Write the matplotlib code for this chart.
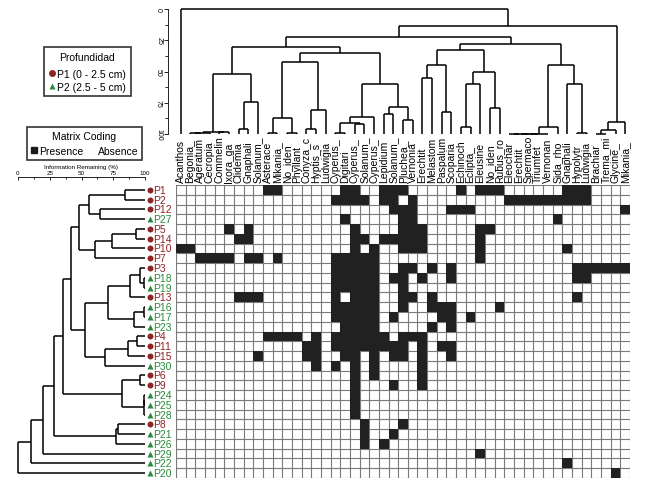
import matplotlib.pyplot as plt
from matplotlib.lines import Line2D
from matplotlib.ticker import MultipleLocator
import numpy as np

plt.rcParams['font.family'] = ['Liberation Sans', 'DejaVu Sans']

species = ["Acanthos", "Begonia_", "Ageratum", "Cecropia", "Commelin", "Ixora_ga",
           "Clidemia", "Gnaphali", "Solanum_", "Asterace", "Mikania_", "No_iden",
           "Phyllant", "Conyza_c", "Hyptis_s", "Ludwigia", "Cyperus_", "Digitari",
           "Cyperus_", "Solanum_", "Cyperus_", "Lepidium", "Solanum_", "Pluchea_",
           "Vernonia", "Erechtit", "Melastom", "Paspalum", "Scoparia", "Echinoch",
           "Eclipta_", "Eleusine", "No_iden", "Rubus_ro", "Eleochar", "Erechtit",
           "Spermaco", "Triumfet", "Vernonan", "Sida_rho", "Gnaphali", "Hypolytr",
           "Ludwigia", "Brachiar", "Trema_mi", "Glycine_", "Mikania_"]

plots = ["P1", "P2", "P12", "P27", "P5", "P14", "P10", "P7", "P3", "P18", "P19",
         "P13", "P16", "P17", "P23", "P4", "P11", "P15", "P30", "P6", "P9", "P24",
         "P25", "P28", "P8", "P21", "P26", "P29", "P22", "P20"]

# depth class of each plot: 1 = P1 (0 - 2.5 cm), 2 = P2 (2.5 - 5 cm)
depth = [1, 1, 1, 2, 1, 1, 1, 1, 1, 2, 2, 1, 2, 2, 2, 1, 1, 1, 2, 1, 1, 2,
         2, 2, 1, 2, 2, 2, 2, 2]

# species (column index) present in each plot
presence = {
    "P1": [9, 10, 17, 18, 21, 22, 23, 29, 31, 32, 33, 40, 41, 42],
    "P2": [16, 17, 18, 19, 21, 22, 24, 34, 35, 36, 37, 38, 39, 40, 41, 42],
    "P12": [22, 23, 24, 28, 29, 30, 46],
    "P27": [17, 23, 24, 39],
    "P5": [5, 7, 18, 23, 24, 25, 31, 32],
    "P14": [6, 7, 18, 19, 21, 22, 23, 24, 25, 31],
    "P10": [0, 1, 18, 20, 23, 24, 25, 31, 40],
    "P7": [2, 3, 4, 5, 7, 8, 10, 16, 17, 18, 19, 20, 31],
    "P3": [16, 17, 18, 19, 20, 23, 24, 26, 28, 41, 42, 43, 44, 45, 46],
    "P18": [16, 17, 18, 19, 20, 22, 23, 25, 28, 41, 42],
    "P19": [16, 17, 18, 19, 20, 23],
    "P13": [6, 7, 8, 16, 18, 19, 20, 23, 24, 26, 41],
    "P16": [16, 17, 18, 19, 20, 23, 26, 27, 28, 33],
    "P17": [16, 17, 18, 19, 20, 22, 27, 28, 30],
    "P23": [17, 18, 19, 20, 26, 28],
    "P4": [9, 10, 11, 12, 14, 16, 17, 18, 19, 20, 21, 23, 24, 25],
    "P11": [13, 14, 16, 17, 18, 19, 20, 21, 22, 23, 25, 27, 28],
    "P15": [8, 13, 14, 17, 18, 20, 22, 23, 25, 28],
    "P30": [14, 16, 18, 20, 25],
    "P6": [18, 20, 25],
    "P9": [18, 22, 25],
    "P24": [18],
    "P25": [18],
    "P28": [18],
    "P8": [19, 23],
    "P21": [19, 22],
    "P26": [19, 21],
    "P29": [31],
    "P22": [40],
    "P20": [45],
}

# row dendrogram: (child, child, information remaining %, new cluster)
row_merges = [
    ("P1", "P2", 84, "r1"), ("P12", "P27", 64.6, "r2"), ("r1", "r2", 56, "r3"),
    ("P5", "P14", 93, "r4"), ("r4", "P10", 74, "r5"), ("r5", "P7", 60.6, "r6"),
    ("r3", "r6", 48, "r7"),
    ("P18", "P19", 99, "r8"), ("P3", "r8", 96, "r9"), ("r9", "P13", 88, "r10"),
    ("P16", "P17", 99.5, "r11"), ("r11", "P23", 91, "r12"), ("r10", "r12", 71, "r13"),
    ("P4", "P11", 94, "r14"), ("r14", "P15", 87, "r15"), ("r15", "P30", 68.5, "r16"),
    ("r13", "r16", 52.8, "r17"), ("r7", "r17", 41.7, "r18"),
    ("P6", "P9", 96, "r19"), ("P24", "P25", 99.6, "r20"), ("r20", "P28", 99.5, "r21"),
    ("r19", "r21", 82, "r22"), ("r18", "r22", 35.8, "r23"),
    ("P8", "P21", 79, "r24"), ("r24", "P26", 77, "r25"), ("r23", "r25", 28.5, "r26"),
    ("r26", "P29", 19.4, "r27"), ("r27", "P22", 10, "r28"), ("r28", "P20", 0, "r29"),
]

# column dendrogram (leaves are column indices)
col_merges = [
    (1, 2, 99.5, "c1"), ("c1", 3, 99.5, "c2"), (4, 5, 98, "c3"), ("c2", "c3", 98, "c4"),
    (6, 7, 96, "c5"), ("c5", 8, 74.7, "c6"), ("c4", "c6", 52, "c7"),
    (9, 10, 99.5, "c8"), (11, 12, 99.5, "c9"), ("c8", "c9", 87, "c10"),
    (13, 14, 96, "c11"), ("c11", 15, 81, "c12"), ("c10", "c12", 42, "c13"),
    (16, 17, 99.5, "c14"), (18, 19, 92, "c15"), ("c14", "c15", 91.2, "c16"),
    ("c16", 20, 86.7, "c17"), (21, 22, 84, "c18"), (23, 24, 88.5, "c19"),
    ("c18", "c19", 78, "c20"), ("c17", "c20", 60, "c21"),
    (25, 26, 55, "c22"), (27, 28, 82.7, "c23"), ("c22", "c23", 45, "c24"),
    (29, 30, 94.7, "c25"), ("c25", 31, 60, "c26"), (32, 33, 79.5, "c27"),
    ("c26", "c27", 50, "c28"), ("c24", "c28", 33, "c29"),
    (34, 35, 100, "c30"), ("c30", 36, 100, "c31"), ("c31", 37, 100, "c32"),
    ("c32", 38, 100, "c33"), ("c33", 39, 94, "c34"),
    (41, 42, 99, "c35"), (40, "c35", 60, "c36"), ("c34", "c36", 45, "c37"),
    (43, 44, 100, "c38"), ("c38", 45, 96.8, "c39"), ("c39", 46, 90.7, "c40"),
    ("c13", "c21", 35, "c41"), ("c7", "c41", 30, "c42"), ("c29", "c37", 28, "c43"),
    ("c42", "c43", 22, "c44"), ("c44", "c40", 13.6, "c45"),
    (0, "c45", 0, "c46"),
]

red = "#8e2424"
green = "#2a8a3c"


def dendro_segments(leaves, merges):
    pos = {name: i + 0.5 for i, name in enumerate(leaves)}
    level = {name: 100.0 for name in leaves}
    segs = []
    for a, b, h, name in merges:
        xa, xb = pos[a], pos[b]
        segs.append(([xa, xa], [level[a], h]))
        segs.append(([xb, xb], [level[b], h]))
        segs.append(([xa, xb], [h, h]))
        pos[name] = (xa + xb) / 2
        level[name] = h
    return segs


W, H = 649, 485
fig = plt.figure(figsize=(W / 100, H / 100), dpi=100)


def px_axes(x0, y0, x1, y1):
    return fig.add_axes([x0 / W, 1 - y1 / H, (x1 - x0) / W, (y1 - y0) / H])


n_rows, n_cols = len(plots), len(species)

# presence / absence matrix
mat = np.zeros((n_rows, n_cols))
for r, p in enumerate(plots):
    for c in presence[p]:
        mat[r, c] = 1

ax = px_axes(176, 186, 630, 479)
ax.set_xlim(0, n_cols)
ax.set_ylim(n_rows, 0)
for k in range(n_cols + 1):
    ax.axvline(k, color="#7a7a7a", lw=0.8, zorder=1)
for k in range(n_rows + 1):
    ax.axhline(k, color="#7a7a7a", lw=0.8, zorder=1)
ax.pcolormesh(np.arange(n_cols + 1), np.arange(n_rows + 1),
              np.ma.masked_equal(mat, 0), cmap="gray_r", vmin=0, vmax=1.15,
              zorder=2)
ax.axis("off")
for c, name in enumerate(species):
    ax.text(c + 0.5, -0.3, name, rotation=90, ha="center", va="bottom",
            fontsize=7.5, clip_on=False)

# column dendrogram
axt = px_axes(176, 10, 630, 135)
for xs, ys in dendro_segments(list(range(n_cols)), col_merges):
    axt.plot(xs, ys, color="black", lw=1.1, solid_capstyle="butt", clip_on=False)
axt.set_xlim(0, n_cols)
axt.set_ylim(100, 0)
for s in ["top", "right", "bottom"]:
    axt.spines[s].set_visible(False)
axt.spines["left"].set_position(("outward", 6))
axt.spines["left"].set_linewidth(0.6)
axt.set_xticks([])
axt.yaxis.set_major_locator(MultipleLocator(25))
axt.yaxis.set_minor_locator(MultipleLocator(12.5))
axt.tick_params(axis="y", which="major", labelsize=5, length=3, width=0.6, pad=1)
axt.tick_params(axis="y", which="minor", length=2, width=0.6)
for lab in axt.get_yticklabels():
    lab.set_rotation(-90)
    lab.set_va("center")

# row dendrogram
axl = px_axes(18, 186, 145, 479)
for xs, ys in dendro_segments(plots, row_merges):
    axl.plot(ys, xs, color="black", lw=1.1, solid_capstyle="butt", clip_on=False)
axl.set_xlim(0, 100)
axl.set_ylim(n_rows, 0)
for s in ["left", "right", "bottom"]:
    axl.spines[s].set_visible(False)
axl.spines["top"].set_position(("outward", 6))
axl.spines["top"].set_linewidth(0.6)
axl.set_yticks([])
axl.xaxis.tick_top()
axl.xaxis.set_label_position("top")
axl.xaxis.set_major_locator(MultipleLocator(25))
axl.xaxis.set_minor_locator(MultipleLocator(12.5))
axl.tick_params(axis="x", which="major", labelsize=4.5, length=2.5, width=0.6,
                pad=1, direction="in")
axl.tick_params(axis="x", which="minor", length=1.5, width=0.6, direction="in")
axl.set_xlabel("Information Remaining (%)", fontsize=4.5, labelpad=2)

for r, p in enumerate(plots):
    col = red if depth[r] == 1 else green
    axl.plot(104, r + 0.5, marker="o" if depth[r] == 1 else "^", color=col,
             ms=4.3, clip_on=False, mec="none")
    axl.text(106.3, r + 0.5, p, color=col, fontsize=7.5, va="center",
             ha="left", clip_on=False)

# legends
h1 = [Line2D([], [], ls="none", marker="o", color=red, mec="none", ms=5),
      Line2D([], [], ls="none", marker="^", color=green, mec="none", ms=5)]
leg1 = fig.legend(h1, ["P1 (0 - 2.5 cm)", "P2 (2.5 - 5 cm)"], title="Profundidad",
                  loc="upper left", bbox_to_anchor=(44 / W, 1 - 48 / H),
                  fontsize=7.5, title_fontsize=7.5, frameon=True, fancybox=False,
                  edgecolor="black", handlelength=0.6, handletextpad=0.2,
                  labelspacing=0.3, borderpad=0.45, borderaxespad=0)
leg1.get_frame().set_linewidth(1.2)
leg1._legend_box.sep = 5

h2 = [Line2D([], [], ls="none", marker="s", color="#1a1a1a", ms=5),
      Line2D([], [], ls="none", marker="s", color="white", ms=5)]
leg2 = fig.legend(h2, ["Presence", "Absence"], title="Matrix Coding", ncol=2,
                  loc="upper left", bbox_to_anchor=(27 / W, 1 - 128 / H),
                  fontsize=7.5, title_fontsize=7.5, frameon=True, fancybox=False,
                  edgecolor="black", handlelength=0.6, handletextpad=0.2,
                  columnspacing=0.6, borderpad=0.35, borderaxespad=0)
leg2.get_frame().set_linewidth(1.2)

fig.savefig("out.png", dpi=100)
